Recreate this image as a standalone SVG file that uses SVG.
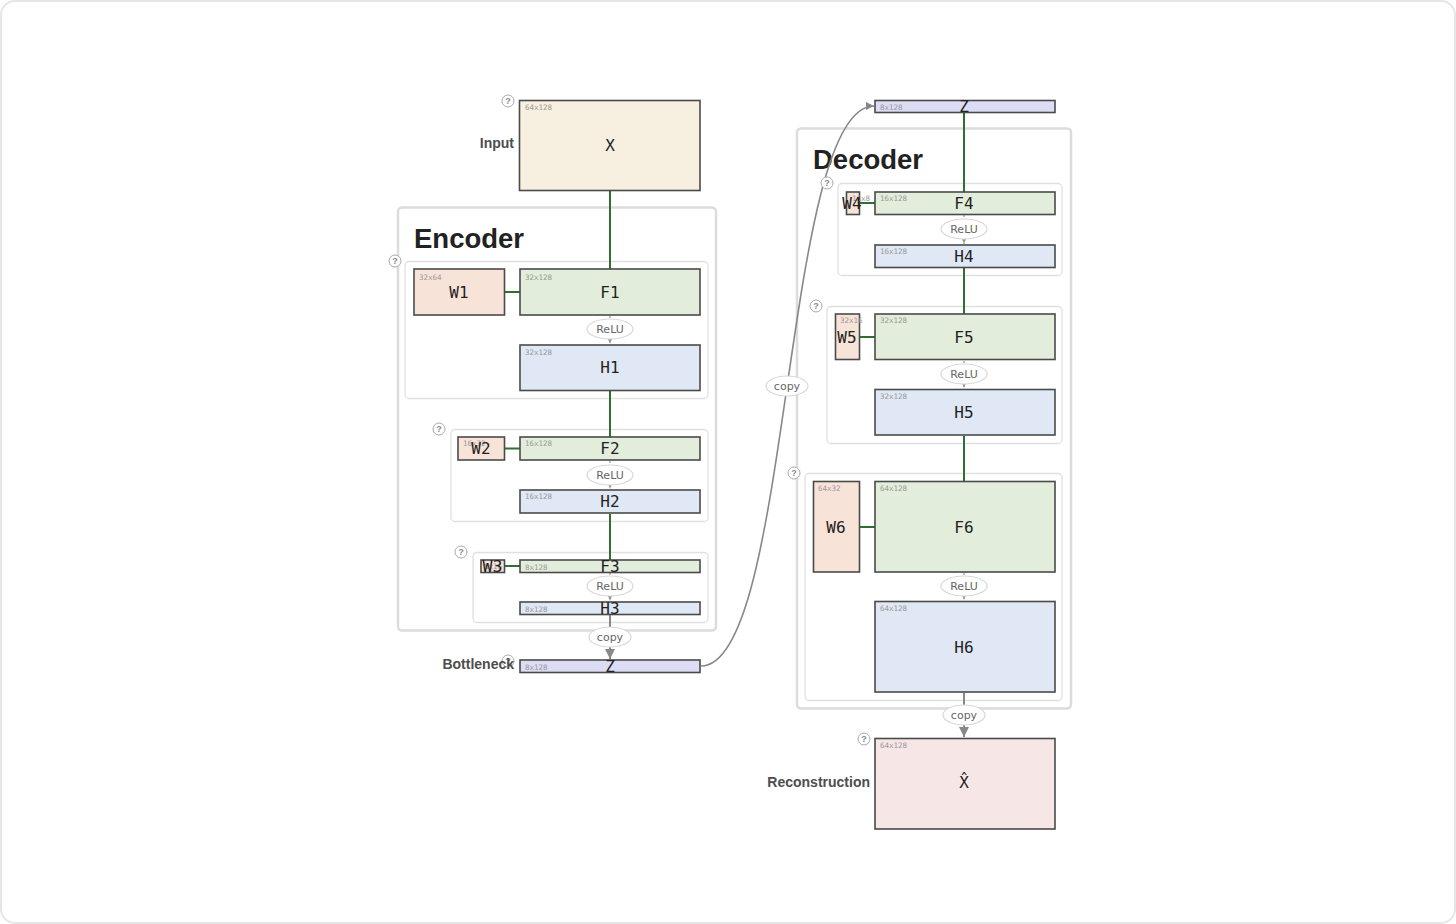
<svg xmlns="http://www.w3.org/2000/svg" width="1456" height="924" viewBox="0 0 1456 924">
<style>
.frame{fill:#fff;stroke:#e6e6e6;stroke-width:2}
.outer{fill:none;stroke:#dcdcdc;stroke-width:2.5}
.grp{fill:none;stroke:#e0e0e0;stroke-width:1.3}
.box{stroke:#4a4a4a;stroke-width:1.6}
.w{fill:#f8e3d8}.f{fill:#e2eedb}.h{fill:#dfe8f4}.z{fill:#dcdcf4}.x{fill:#f7efdf}.xr{fill:#f6e6e6}
.dim{font-family:"DejaVu Sans Mono",monospace;font-size:7.5px;fill:#999}
.lbl{font-family:"DejaVu Sans Mono",monospace;font-size:16px;fill:#222;text-anchor:middle;dominant-baseline:central}
.side{font-family:"Liberation Sans",Arial,sans-serif;font-size:14px;font-weight:bold;fill:#4d4d4d;text-anchor:end;dominant-baseline:central}
.title{font-family:"Liberation Sans",Arial,sans-serif;font-size:27.5px;font-weight:bold;fill:#222}
.pill{fill:#fff;stroke:#d8d8d8;stroke-width:1.2}
.pt{font-family:"DejaVu Sans",sans-serif;font-size:11px;fill:#666;text-anchor:middle;dominant-baseline:central}
.q circle{fill:#fff;stroke:#aaa;stroke-width:1}
.q text{font-family:"Liberation Sans",Arial,sans-serif;font-size:9px;font-weight:bold;fill:#888;text-anchor:middle;dominant-baseline:central}
.g{stroke:#2f6f2f;stroke-width:2;fill:none}
.relu{stroke:#999;stroke-width:1.2;stroke-dasharray:2 2;fill:none}
.cp{stroke:#888;stroke-width:2;fill:none}
.curve{stroke:#888;stroke-width:1.6;fill:none}
</style>
<defs>
<marker id="sa" viewBox="0 0 10 10" refX="10" refY="5" markerWidth="5" markerHeight="5" orient="auto"><path d="M0,1 L10,5 L0,9 z" fill="#999"/></marker>
<marker id="ba" viewBox="0 0 10 10" refX="10" refY="5" markerWidth="5" markerHeight="5" orient="auto"><path d="M0,0 L10,5 L0,10 z" fill="#888"/></marker>
</defs>
<rect class="frame" x="1" y="1" width="1454" height="922" rx="14"/>

<!-- frames -->
<g id="encoder">
<rect class="outer" x="398" y="207.5" width="318" height="423" rx="4"/>
<text class="title" x="414" y="248">Encoder</text>
</g>
<g id="decoder">
<rect class="outer" x="797" y="128.5" width="274" height="580" rx="4"/>
<text class="title" x="813" y="169">Decoder</text>
</g>
<g id="groups">
<rect class="grp" x="405" y="261.5" width="303" height="137" rx="4"/>
<rect class="grp" x="451" y="429.5" width="257" height="92" rx="4"/>
<rect class="grp" x="473" y="552.5" width="235" height="70" rx="4"/>
<rect class="grp" x="838" y="183.5" width="224" height="92" rx="4"/>
<rect class="grp" x="827" y="306.5" width="235" height="137" rx="4"/>
<rect class="grp" x="805" y="473.5" width="257" height="227" rx="4"/>
</g>

<!-- connectors -->
<g id="connectors">
<line class="g" x1="610" y1="191" x2="610" y2="269"/>
<line class="g" x1="610" y1="391" x2="610" y2="437"/>
<line class="g" x1="610" y1="514" x2="610" y2="560"/>
<line class="g" x1="505" y1="292" x2="520" y2="292"/>
<line class="g" x1="505" y1="448.5" x2="520" y2="448.5"/>
<line class="g" x1="505" y1="566" x2="520" y2="566"/>
<line class="relu" x1="610" y1="316" x2="610" y2="344" marker-end="url(#sa)"/>
<line class="relu" x1="610" y1="461" x2="610" y2="489" marker-end="url(#sa)"/>
<line class="relu" x1="610" y1="573" x2="610" y2="601" marker-end="url(#sa)"/>
<line class="cp" x1="610" y1="615" x2="610" y2="659" marker-end="url(#ba)"/>
<path class="curve" d="M701,666 C792,666 782,106 874,106" marker-end="url(#ba)"/>
<line class="g" x1="964" y1="113" x2="964" y2="192"/>
<line class="g" x1="964" y1="268" x2="964" y2="314"/>
<line class="g" x1="964" y1="436" x2="964" y2="481"/>
<line class="g" x1="860" y1="203" x2="875" y2="203"/>
<line class="g" x1="860" y1="337" x2="875" y2="337"/>
<line class="g" x1="860" y1="527" x2="875" y2="527"/>
<line class="relu" x1="964" y1="215" x2="964" y2="244" marker-end="url(#sa)"/>
<line class="relu" x1="964" y1="361" x2="964" y2="388" marker-end="url(#sa)"/>
<line class="relu" x1="964" y1="573" x2="964" y2="600" marker-end="url(#sa)"/>
<line class="cp" x1="964" y1="693" x2="964" y2="737" marker-end="url(#ba)"/>
<ellipse class="pill" cx="610" cy="329" rx="23" ry="10"/><text class="pt" x="610" y="329">ReLU</text>
<ellipse class="pill" cx="610" cy="475" rx="23" ry="10"/><text class="pt" x="610" y="475">ReLU</text>
<ellipse class="pill" cx="610" cy="586" rx="23" ry="10"/><text class="pt" x="610" y="586">ReLU</text>
<ellipse class="pill" cx="610" cy="637" rx="21" ry="10"/><text class="pt" x="610" y="637">copy</text>
<ellipse class="pill" cx="787" cy="386" rx="21" ry="10"/><text class="pt" x="787" y="386">copy</text>
<ellipse class="pill" cx="964" cy="229" rx="23" ry="10"/><text class="pt" x="964" y="229">ReLU</text>
<ellipse class="pill" cx="964" cy="374" rx="23" ry="10"/><text class="pt" x="964" y="374">ReLU</text>
<ellipse class="pill" cx="964" cy="586" rx="23" ry="10"/><text class="pt" x="964" y="586">ReLU</text>
<ellipse class="pill" cx="964" cy="715" rx="21" ry="10"/><text class="pt" x="964" y="715">copy</text>
</g>

<!-- help markers -->
<g id="help" class="q">
<circle cx="508" cy="101" r="6"/><text x="508" y="101">?</text>
<circle cx="395" cy="261" r="6"/><text x="395" y="261">?</text>
<circle cx="439" cy="429" r="6"/><text x="439" y="429">?</text>
<circle cx="461" cy="552" r="6"/><text x="461" y="552">?</text>
<circle cx="508" cy="661" r="6"/><text x="508" y="661">?</text>
<circle cx="827" cy="183" r="6"/><text x="827" y="183">?</text>
<circle cx="816" cy="306" r="6"/><text x="816" y="306">?</text>
<circle cx="794" cy="473" r="6"/><text x="794" y="473">?</text>
<circle cx="864" cy="739" r="6"/><text x="864" y="739">?</text>
</g>

<!-- nodes -->
<g id="X"><rect class="box x" x="519.5" y="100.5" width="180.5" height="90"/><text class="dim" x="525" y="110">64x128</text><text class="lbl" x="610" y="145">X</text><text class="side" x="514" y="143">Input</text></g>
<g id="W1"><rect class="box w" x="414" y="269" width="90.5" height="46"/><text class="dim" x="419" y="280">32x64</text><text class="lbl" x="459" y="292">W1</text></g>
<g id="F1"><rect class="box f" x="520" y="269" width="180" height="46"/><text class="dim" x="525" y="280">32x128</text><text class="lbl" x="610" y="292">F1</text></g>
<g id="H1"><rect class="box h" x="520" y="345" width="180" height="45.5"/><text class="dim" x="525" y="355">32x128</text><text class="lbl" x="610" y="367">H1</text></g>
<g id="W2"><rect class="box w" x="458" y="437" width="46.5" height="23"/><text class="dim" x="463" y="446">16x32</text><text class="lbl" x="481" y="448.5" font-size="18">W2</text></g>
<g id="F2"><rect class="box f" x="520" y="437" width="180" height="23"/><text class="dim" x="525" y="446">16x128</text><text class="lbl" x="610" y="448.5">F2</text></g>
<g id="H2"><rect class="box h" x="520" y="490" width="180" height="23"/><text class="dim" x="525" y="499">16x128</text><text class="lbl" x="610" y="501.5">H2</text></g>
<g id="W3"><rect class="box w" x="481" y="560" width="23.5" height="12.5"/><text class="dim" x="484" y="569">8x16</text><text class="lbl" x="492.5" y="566.5" textLength="20" lengthAdjust="spacingAndGlyphs">W3</text></g>
<g id="F3"><rect class="box f" x="520" y="560" width="180" height="12.5"/><text class="dim" x="525" y="569.5">8x128</text><text class="lbl" x="610" y="566.5">F3</text></g>
<g id="H3"><rect class="box h" x="520" y="602" width="180" height="12.5"/><text class="dim" x="525" y="611.5">8x128</text><text class="lbl" x="610" y="608.5">H3</text></g>
<g id="Z1"><rect class="box z" x="520" y="660" width="180" height="12.5"/><text class="dim" x="525" y="670">8x128</text><text class="lbl" x="610" y="666">Z</text><text class="side" x="514" y="664">Bottleneck</text></g>

<g id="Z2"><rect class="box z" x="875" y="100.5" width="180" height="12"/><text class="dim" x="880" y="110">8x128</text><text class="lbl" x="964" y="106">Z</text></g>
<g id="W4"><rect class="box w" x="846.5" y="192" width="13" height="22.5"/><text class="dim" x="852" y="201">16x8</text><text class="lbl" x="852" y="203.5" font-size="18">W4</text></g>
<g id="F4"><rect class="box f" x="875" y="192" width="180" height="22.5"/><text class="dim" x="880" y="201">16x128</text><text class="lbl" x="964" y="203">F4</text></g>
<g id="H4"><rect class="box h" x="875" y="245" width="180" height="22.5"/><text class="dim" x="880" y="254">16x128</text><text class="lbl" x="964" y="256">H4</text></g>
<g id="W5"><rect class="box w" x="835.5" y="314" width="24" height="45.5"/><text class="dim" x="840" y="323">32x16</text><text class="lbl" x="847" y="337" font-size="18">W5</text></g>
<g id="F5"><rect class="box f" x="875" y="314" width="180" height="45.5"/><text class="dim" x="880" y="323">32x128</text><text class="lbl" x="964" y="337">F5</text></g>
<g id="H5"><rect class="box h" x="875" y="389.5" width="180" height="45.5"/><text class="dim" x="880" y="399">32x128</text><text class="lbl" x="964" y="412">H5</text></g>
<g id="W6"><rect class="box w" x="813.5" y="481.5" width="46" height="90.5"/><text class="dim" x="818" y="491">64x32</text><text class="lbl" x="836" y="527">W6</text></g>
<g id="F6"><rect class="box f" x="875" y="481.5" width="180" height="90.5"/><text class="dim" x="880" y="491">64x128</text><text class="lbl" x="964" y="527">F6</text></g>
<g id="H6"><rect class="box h" x="875" y="601.5" width="180" height="90.5"/><text class="dim" x="880" y="611">64x128</text><text class="lbl" x="964" y="647">H6</text></g>
<g id="Xhat"><rect class="box xr" x="875" y="738.5" width="180" height="90.5"/><text class="dim" x="880" y="748">64x128</text><text class="lbl" x="964" y="782">X̂</text><text class="side" x="870" y="782">Reconstruction</text></g>
</svg>
